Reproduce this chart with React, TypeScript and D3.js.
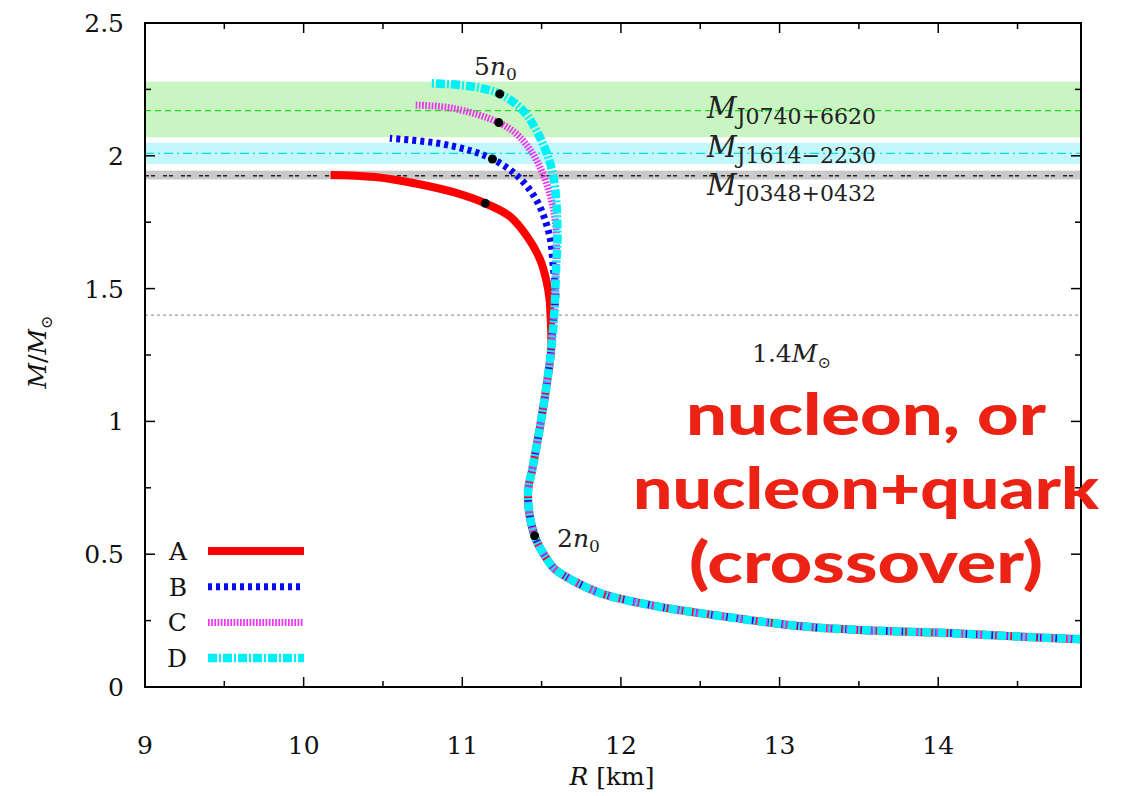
import React from "react";
import * as d3 from "d3";

// Mass–radius relations for four equations of state (A–D).
// Low-mass branch shared by all four models: [R (km), M/Msun]
const sharedLow: [number, number][] = [
  [14.9, 0.18], [14.5, 0.19], [14.07, 0.203], [13.5, 0.215], [13.12, 0.23],
  [12.49, 0.279], [12.18, 0.309], [11.85, 0.358], [11.59, 0.44], [11.55, 0.467],
  [11.456, 0.569], [11.414, 0.729], [11.445, 0.83], [11.49, 0.98], [11.53, 1.13],
  [11.56, 1.27],
];
// Upper branches, listed from the shared branch towards the maximum mass
const upperA: [number, number][] = [
  [11.56, 1.35], [11.555, 1.41], [11.55, 1.46], [11.53, 1.53], [11.49, 1.61],
  [11.41, 1.695], [11.3, 1.772], [11.145, 1.821], [10.95, 1.862], [10.73, 1.893],
  [10.45, 1.92], [10.17, 1.928],
];
const upperB: [number, number][] = [
  [11.58, 1.407], [11.59, 1.48], [11.575, 1.57], [11.55, 1.7], [11.467, 1.834],
  [11.34, 1.928], [11.19, 1.988], [11.047, 2.02], [10.84, 2.048], [10.543, 2.066],
];
const upperC: [number, number][] = [
  [11.58, 1.407], [11.59, 1.56], [11.59, 1.733], [11.55, 1.859], [11.467, 1.984],
  [11.36, 2.072], [11.23, 2.125], [10.94, 2.179], [10.7, 2.191],
];
const upperD: [number, number][] = [
  [11.58, 1.407], [11.59, 1.56], [11.6, 1.72], [11.57, 1.934], [11.487, 2.072],
  [11.38, 2.172], [11.236, 2.233], [11.047, 2.262], [10.795, 2.273],
];

const seriesNames = ["A", "B", "C", "D"];
const seriesColors = ["#ff0000", "#0a0aee", "#ee33ee", "#00f0f8"];
const seriesDash = ["none", "4,4", "1.7,1.5", "9,2,2,2"];
const seriesWidth = [8, 7, 7, 8.5];
const seriesUpper = [upperA, upperB, upperC, upperD];

// Central density markers: 5 n0 on each branch, 2 n0 on the shared branch
const dots5n0: [number, number][] = [[11.145, 1.821], [11.19, 1.988], [11.23, 2.125], [11.236, 2.233]];
const dot2n0: [number, number] = [11.456, 0.569];

// Pulsar mass constraints: central value and band limits
const pulsarNames = ["J0740+6620", "J1614\u22122230", "J0348+0432"];
const pulsarMass = [2.17, 2.009, 1.925];
const pulsarLow = [2.07, 1.969, 1.911];
const pulsarHigh = [2.279, 2.049, 1.944];
const pulsarBand = ["#c8f5c2", "#c2f8fc", "#c9c9c9"];
const pulsarLine = ["#22dd22", "#00dcea", "#222222"];
const pulsarDash = ["6,4", "9,4,2,4", "4,2,4,8"];

const xTicks = [9, 10, 11, 12, 13, 14];
const yTicks = [0, 0.5, 1, 1.5, 2, 2.5];
const xMinor = [9.5, 10.5, 11.5, 12.5, 13.5, 14.5];
const yMinor = [0.25, 0.75, 1.25, 1.75, 2.25];

const noteLines = ["nucleon, or", "nucleon+quark", "(crossover)"];
const noteWidths = [360, 466, 354];

const W = 1124;
const H = 796;
const left = 145;
const right = 1081;
const top = 23;
const bottom = 687;

const serif = "'DejaVu Serif', 'Liberation Serif', serif";

export default function App() {
  const x = d3.scaleLinear().domain([9, 14.9]).range([left, right]);
  const y = d3.scaleLinear().domain([0, 2.5]).range([bottom, top]);
  const line = d3
    .line<[number, number]>()
    .x((d) => x(d[0]))
    .y((d) => y(d[1]))
    .curve(d3.curveCatmullRom.alpha(0.5));

  const seriesPts = seriesUpper.map((up) => [...sharedLow, ...up]);

  return (
    <svg
      width={W}
      height={H}
      viewBox={`0 0 ${W} ${H}`}
      style={{ position: "absolute", left: 0, top: 0, background: "#fff" }}
    >
      <defs>
        <clipPath id="plotClip">
          <rect x={left} y={top} width={right - left} height={bottom - top} />
        </clipPath>
      </defs>

      <g clipPath="url(#plotClip)">
        {pulsarNames.map((n, i) => (
          <rect
            key={"band" + n}
            x={left}
            width={right - left}
            y={y(pulsarHigh[i])}
            height={y(pulsarLow[i]) - y(pulsarHigh[i])}
            fill={pulsarBand[i]}
          />
        ))}
        {pulsarNames.map((n, i) => (
          <line
            key={"pl" + n}
            x1={left}
            x2={right}
            y1={y(pulsarMass[i])}
            y2={y(pulsarMass[i])}
            stroke={pulsarLine[i]}
            strokeWidth={1.4}
            strokeDasharray={pulsarDash[i]}
          />
        ))}
        <line
          x1={left}
          x2={right}
          y1={y(1.4)}
          y2={y(1.4)}
          stroke="#9a9a9a"
          strokeWidth={1.4}
          strokeDasharray="3,3"
        />

        {seriesPts.map((pts, i) => (
          <path
            key={"s" + i}
            d={line(pts) || ""}
            fill="none"
            stroke={seriesColors[i]}
            strokeWidth={seriesWidth[i]}
            strokeDasharray={seriesDash[i]}
          />
        ))}

        {dots5n0.map((d, i) => (
          <circle key={"d" + i} cx={x(d[0])} cy={y(d[1])} r={4.5} fill="#000" />
        ))}
        <circle cx={x(dot2n0[0])} cy={y(dot2n0[1])} r={4.5} fill="#000" />
      </g>

      {/* frame and ticks */}
      <rect
        x={left}
        y={top}
        width={right - left}
        height={bottom - top}
        fill="none"
        stroke="#000"
        strokeWidth={2}
      />
      {xTicks.map((t) => (
        <g key={"xt" + t}>
          <line x1={x(t)} x2={x(t)} y1={bottom} y2={bottom - 10} stroke="#000" strokeWidth={1.5} />
          <line x1={x(t)} x2={x(t)} y1={top} y2={top + 10} stroke="#000" strokeWidth={1.5} />
          <text x={x(t)} y={754} textAnchor="middle" fontFamily={serif} fontSize={25} fill="#111">
            {t}
          </text>
        </g>
      ))}
      {xMinor.map((t) => (
        <g key={"xm" + t}>
          <line x1={x(t)} x2={x(t)} y1={bottom} y2={bottom - 6} stroke="#000" strokeWidth={1.5} />
          <line x1={x(t)} x2={x(t)} y1={top} y2={top + 6} stroke="#000" strokeWidth={1.5} />
        </g>
      ))}
      {yTicks.map((t) => (
        <g key={"yt" + t}>
          <line x1={left} x2={left + 10} y1={y(t)} y2={y(t)} stroke="#000" strokeWidth={1.5} />
          <line x1={right} x2={right - 10} y1={y(t)} y2={y(t)} stroke="#000" strokeWidth={1.5} />
          <text x={124} y={y(t) + 9} textAnchor="end" fontFamily={serif} fontSize={25} fill="#111">
            {t}
          </text>
        </g>
      ))}
      {yMinor.map((t) => (
        <g key={"ym" + t}>
          <line x1={left} x2={left + 6} y1={y(t)} y2={y(t)} stroke="#000" strokeWidth={1.5} />
          <line x1={right} x2={right - 6} y1={y(t)} y2={y(t)} stroke="#000" strokeWidth={1.5} />
        </g>
      ))}

      {/* axis titles */}
      <text x={612} y={785} textAnchor="middle" fontFamily={serif} fontSize={25} fill="#111">
        <tspan fontStyle="italic">R</tspan> [km]
      </text>
      <text
        transform="translate(46,352) rotate(-90)"
        textAnchor="middle"
        fontFamily={serif}
        fontSize={25}
        fill="#111"
      >
        <tspan fontStyle="italic">M</tspan>/<tspan fontStyle="italic">M</tspan>
        <tspan fontSize={16} dy={6}>{"\u2299"}</tspan>
      </text>

      {/* pulsar labels */}
      {pulsarNames.map((n, i) => (
        <text key={"lab" + n} x={707} y={[118, 157, 195][i]} fontFamily={serif} fill="#222">
          <tspan fontSize={29} fontStyle="italic">M</tspan>
          <tspan fontSize={22} dy={6}>{n}</tspan>
        </text>
      ))}
      <text x={752} y={362} fontFamily={serif} fontSize={25} fill="#222">
        1.4<tspan fontStyle="italic">M</tspan>
        <tspan fontSize={16} dy={6}>{"\u2299"}</tspan>
      </text>

      {/* density labels */}
      <text x={474} y={75} fontFamily={serif} fontSize={25} fill="#222">
        5<tspan fontStyle="italic">n</tspan>
        <tspan fontSize={17} dy={5}>0</tspan>
      </text>
      <text x={557} y={547} fontFamily={serif} fontSize={25} fill="#222">
        2<tspan fontStyle="italic">n</tspan>
        <tspan fontSize={17} dy={5}>0</tspan>
      </text>

      {/* legend */}
      {seriesNames.map((n, i) => {
        const ly = 551 + i * 35.7;
        return (
          <g key={"lg" + n}>
            <text x={187} y={ly + 9} textAnchor="end" fontFamily={serif} fontSize={25} fill="#111">
              {n}
            </text>
            <line
              x1={208}
              x2={304}
              y1={ly}
              y2={ly}
              stroke={seriesColors[i]}
              strokeWidth={seriesWidth[i]}
              strokeDasharray={seriesDash[i]}
            />
          </g>
        );
      })}

      {/* annotation */}
      {noteLines.map((t, i) => (
        <text
          key={"note" + i}
          x={866}
          y={435 + i * 74}
          textAnchor="middle"
          fontFamily="Lato, 'Open Sans', sans-serif"
          fontWeight={900}
          fontSize={58}
          textLength={noteWidths[i]}
          lengthAdjust="spacingAndGlyphs"
          fill="#ec2314"
        >
          {t}
        </text>
      ))}
    </svg>
  );
}
